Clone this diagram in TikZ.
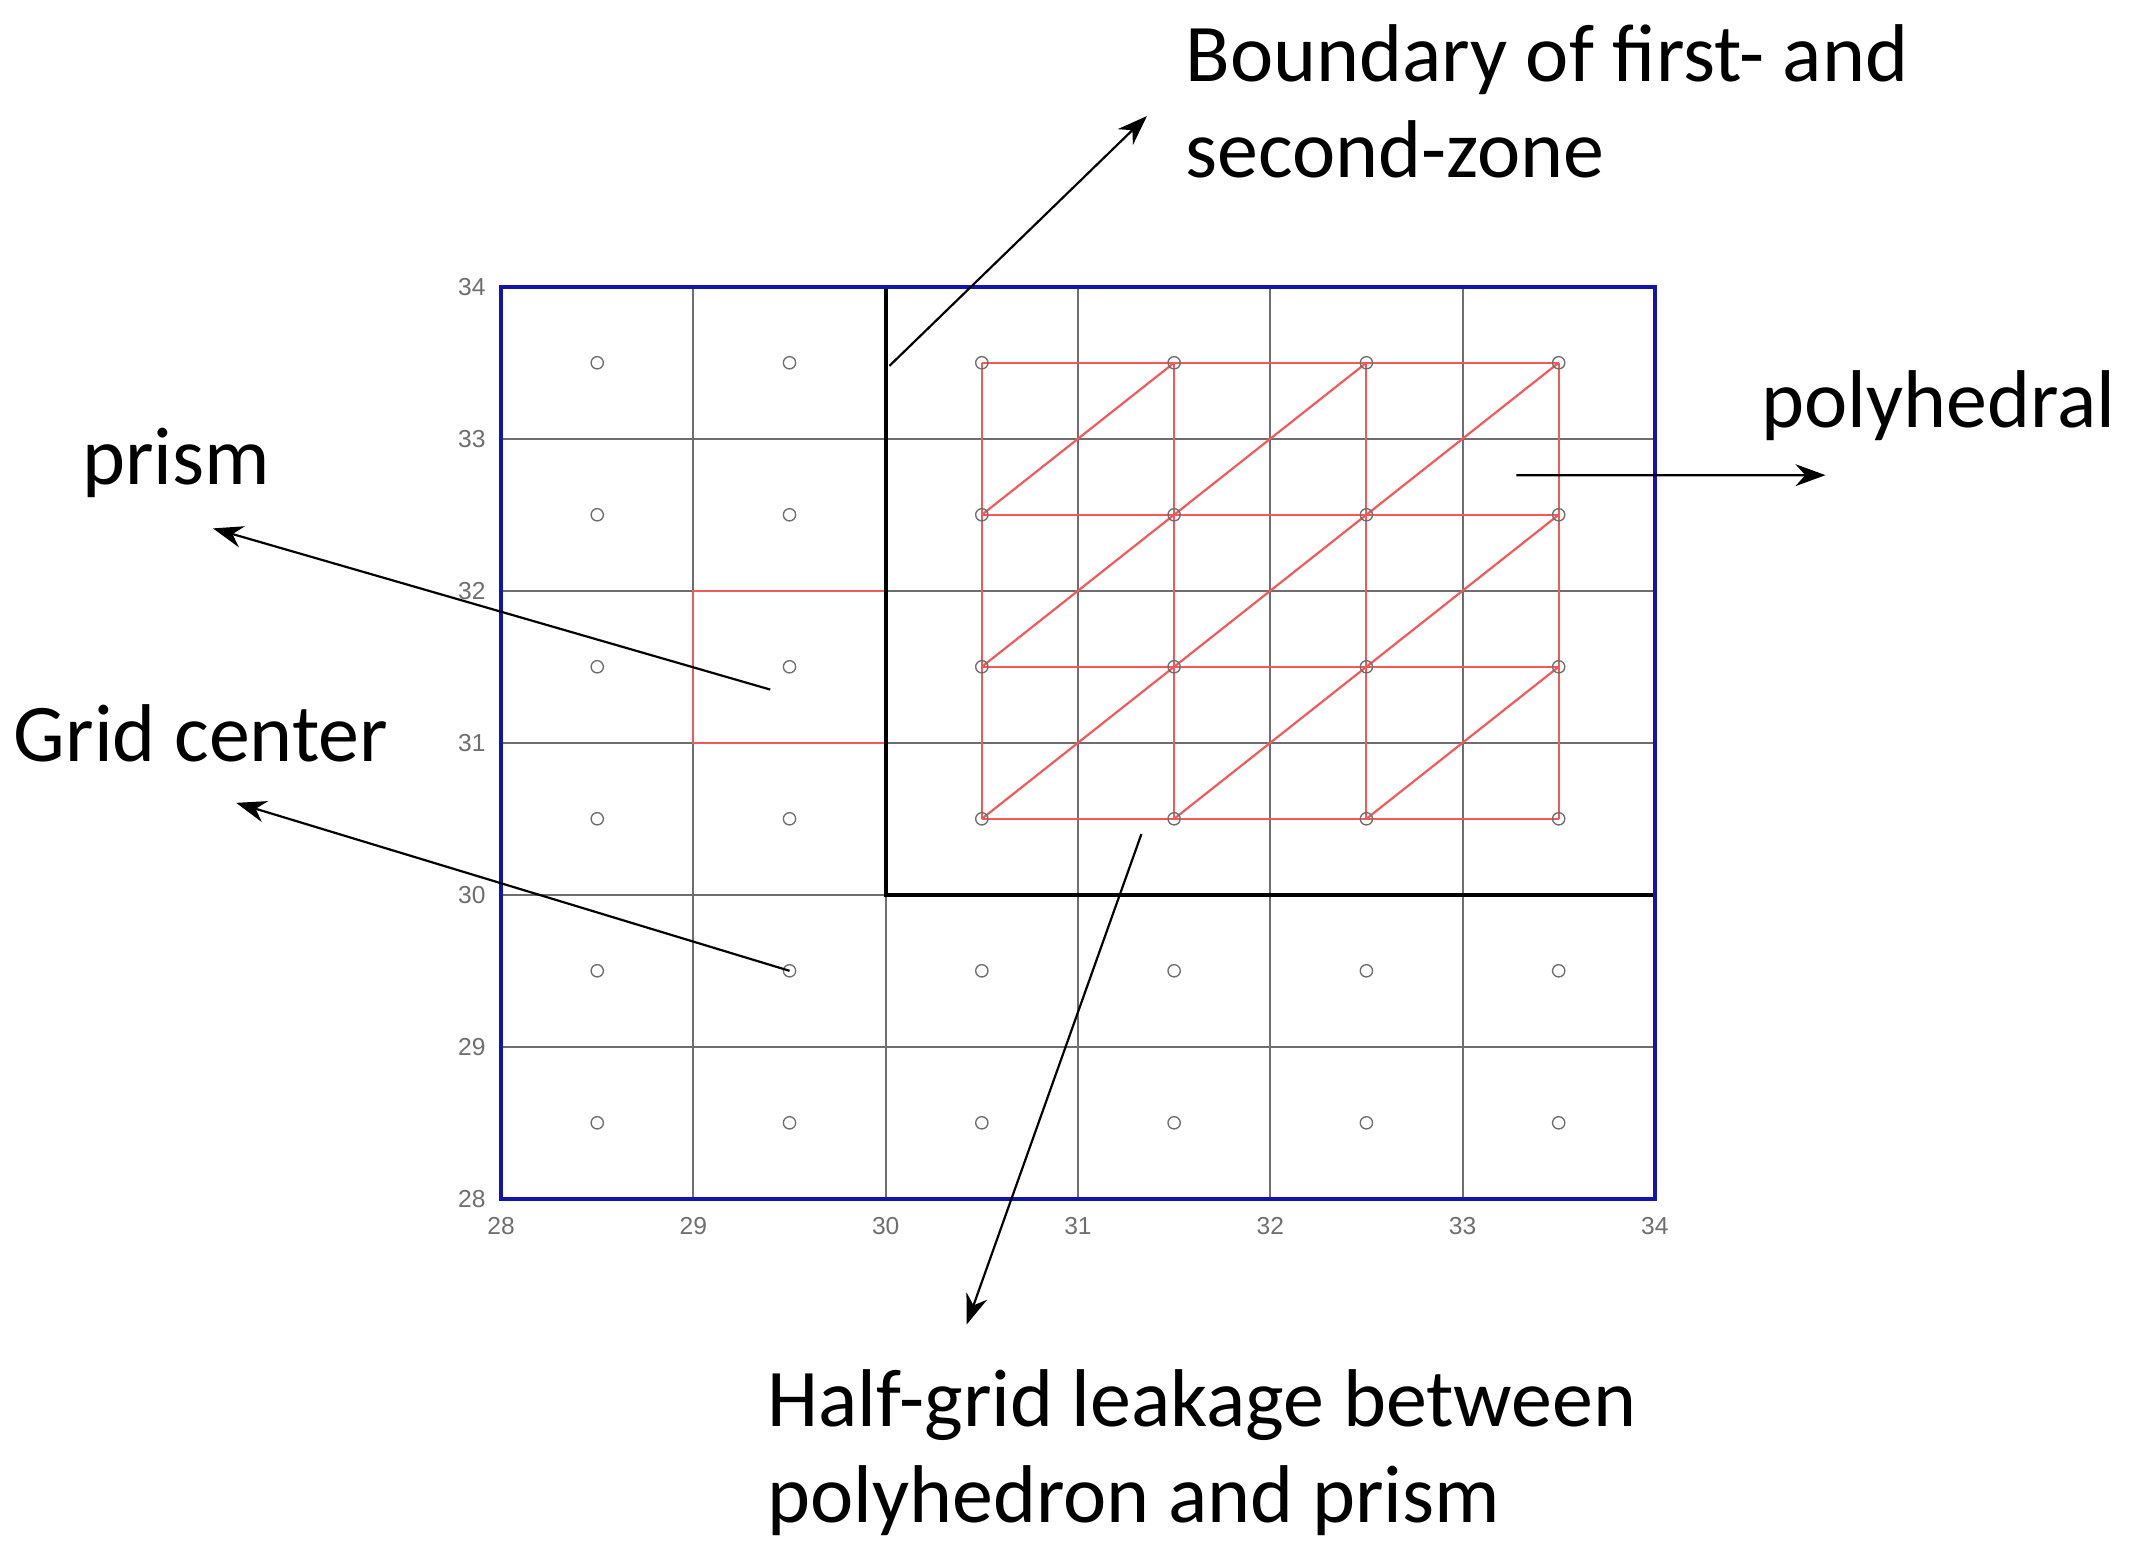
\documentclass[tikz,border=0pt]{standalone}
\usepackage{fontspec}
\setmainfont{Carlito}
\newfontfamily\axisfont{Liberation Sans}
\usetikzlibrary{arrows.meta}
\definecolor{gridgray}{RGB}{110,110,110}
\definecolor{polyred}{RGB}{240,90,90}
\definecolor{framblue}{RGB}{20,20,170}
\tikzset{
  lbl/.style={font=\fontsize{60}{70}\selectfont, anchor=base west, align=left, inner sep=0},
  tick/.style={font=\axisfont\fontsize{18}{18}\selectfont, text=gridgray, inner sep=0},
  ptr/.style={-{Stealth[length=22pt,width=16pt]}, line width=1.6pt},
  ctr/.style={circle, draw=gridgray, line width=1pt, minimum size=9pt, inner sep=0},
  gl/.style={gridgray, line width=1.5pt},
  rl/.style={polyred, line width=1.6pt}
}
\begin{document}
\begin{tikzpicture}[x=1pt,y=-1pt]
\useasboundingbox (0,0) rectangle (1560,1138);
\begin{scope}[shift={(367,878)}, x={(140.83pt,0)}, y={(0,111.33pt)}]
  \foreach \i in {1,...,5} {\draw[gl] (\i,0) -- (\i,6); \draw[gl] (0,\i) -- (6,\i);}
  \draw[rl] (1,3) rectangle (2,4);
  \foreach \v in {2.5,3.5,4.5,5.5} {\draw[rl] (2.5,\v) -- (5.5,\v); \draw[rl] (\v,2.5) -- (\v,5.5);}
  \draw[rl] (2.5,4.5) -- (3.5,5.5);
  \draw[rl] (2.5,3.5) -- (4.5,5.5);
  \draw[rl] (2.5,2.5) -- (5.5,5.5);
  \draw[rl] (3.5,2.5) -- (5.5,4.5);
  \draw[rl] (4.5,2.5) -- (5.5,3.5);
  \draw[black, line width=3pt] (2,6) -- (2,2) -- (6,2);
  \draw[framblue, line width=3pt] (0,0) rectangle (6,6);
  \foreach \i in {0,...,5} \foreach \j in {0,...,5} \node[ctr] (c\i\j) at (\i+0.5,\j+0.5) {};
  \foreach \k [evaluate=\k as \lab using int(28+\k)] in {0,...,6} {
    \node[tick, anchor=north] (tx\k) at (\k,-0.12) {\lab};
    \node[tick, anchor=east] (ty\k) at (-0.08,\k) {\lab};
  }
  \coordinate (bstart) at (2.02,5.48);
  \coordinate (pstart) at (5.28,4.76);
  \coordinate (prstart) at (1.40,3.35);
  \coordinate (hstart) at (3.33,2.4);
\end{scope}
\node[lbl] (tb) at (868,130) {Boundary of first- and\\second-zone};
\node[lbl] (tp) at (1290,313) {polyhedral};
\node[lbl] (tpr) at (60,355) {prism};
\node[lbl] (tg) at (10,558) {Grid center};
\node[lbl] (th) at (562,1115) {Half-grid leakage between\\polyhedron and prism};
\coordinate (ab) at (840,85);
\coordinate (ap) at (1337,348);
\coordinate (apr) at (156,387);
\coordinate (ag) at (173,588);
\coordinate (ah) at (708,970);
\draw[ptr] (bstart) -- (ab);
\draw[ptr] (pstart) -- (ap);
\draw[ptr] (prstart) -- (apr);
\draw[ptr] (c11.center) -- (ag);
\draw[ptr] (hstart) -- (ah);
\end{tikzpicture}
\end{document}
